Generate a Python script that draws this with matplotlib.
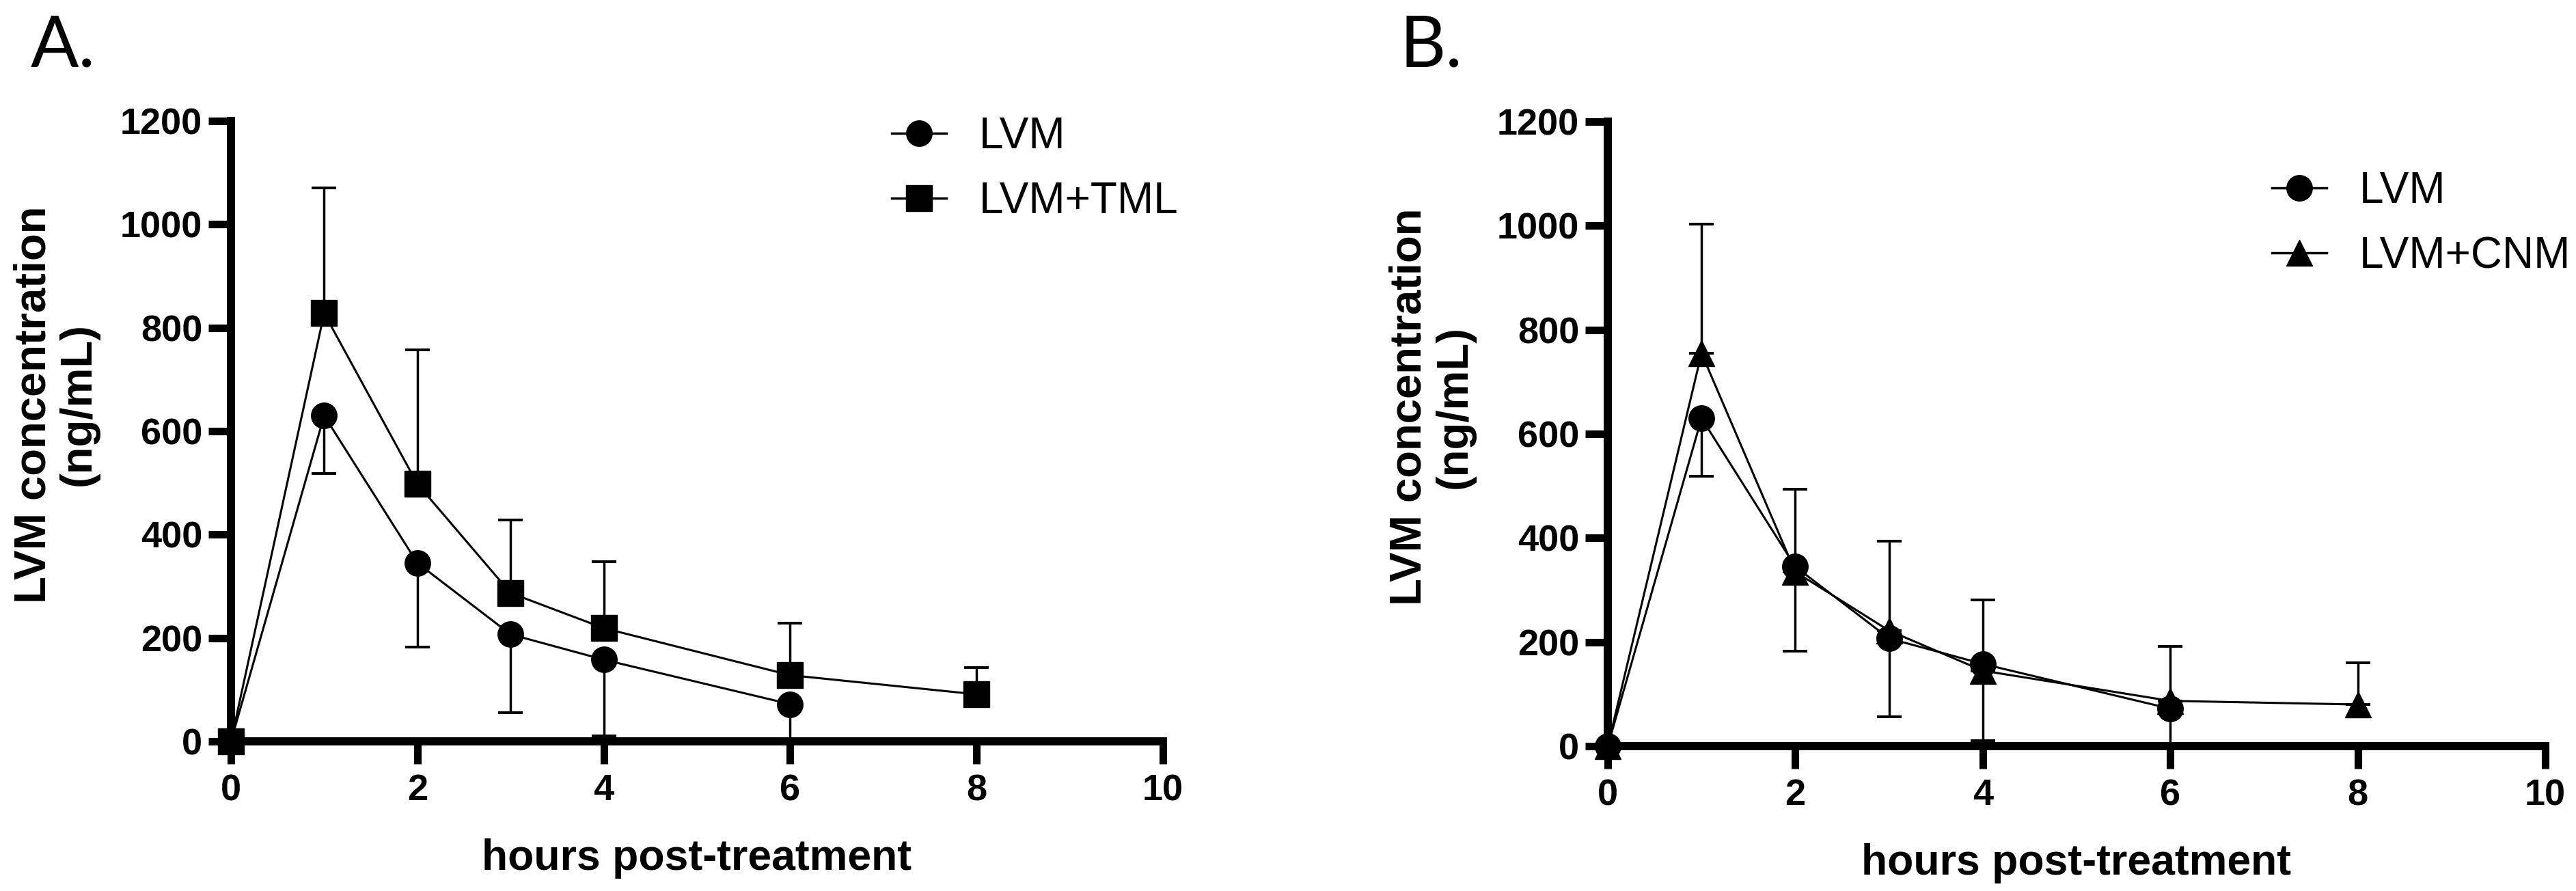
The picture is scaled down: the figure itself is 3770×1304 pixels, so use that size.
import matplotlib
matplotlib.use("Agg")
import matplotlib.pyplot as plt
from matplotlib import font_manager

# ---------------- data ----------------
hours_lvm = [0, 1, 2, 3, 4, 6]
lvm_mean = [0, 630, 345, 207, 158, 72]
lvm_sd = [0, 112, 162, 151, 147, 75]

hours_combo = [0, 1, 2, 3, 4, 6, 8]
tml_mean = [0, 828, 498, 287, 219, 128, 91]
tml_sd = [0, 243, 259, 141, 129, 100, 52]

cnm_mean = [0, 755, 335, 222, 145, 87, 80]
cnm_sd = [0, 248, 159, 172, 136, 105, 80]

x_ticks = [0, 2, 4, 6, 8, 10]
y_ticks = [0, 200, 400, 600, 800, 1000, 1200]
x_label = "hours post-treatment"
y_label = "LVM concentration\n(ng/mL)"

# ---------------- fonts ----------------
names = {f.name for f in font_manager.fontManager.ttflist}
NARROW = "Liberation Sans Narrow" if "Liberation Sans Narrow" in names else "Liberation Sans"
LETTER = "Lato" if "Lato" in names else "DejaVu Sans"

W, H = 3770, 1304
DPI = 100
fig = plt.figure(figsize=(W / DPI, H / DPI), dpi=DPI)


def px_axes(l, t, r, b):
    return fig.add_axes([l / W, 1 - b / H, (r - l) / W, (b - t) / H])


axA = px_axes(338, 177, 1702, 1085)
axB = px_axes(2353, 178, 3725, 1092)

LW_AX = 8.6
LW_DATA = 2.2
MS = 27
CAP = 13


def style_axes(ax):
    ax.set_xlim(0, 10)
    ax.set_ylim(0, 1200)
    for s in ("top", "right"):
        ax.spines[s].set_visible(False)
    for s in ("left", "bottom"):
        ax.spines[s].set_linewidth(LW_AX)
        ax.spines[s].set_capstyle("projecting")
    ax.set_xticks(x_ticks)
    ax.set_yticks(y_ticks)
    ax.tick_params(axis="both", direction="out", length=24, width=8,
                   labelsize=39, color="black")
    ax.tick_params(axis="x", pad=10)
    ax.tick_params(axis="y", pad=6)
    for lab in ax.get_xticklabels() + ax.get_yticklabels():
        lab.set_fontfamily(NARROW)
        lab.set_fontweight("bold")
    ax.set_xlabel(x_label, fontsize=45, fontweight="bold", family=NARROW, labelpad=32)
    ax.set_ylabel(y_label, fontsize=47, fontweight="bold", family=NARROW,
                  va="center", ha="center", multialignment="center", linespacing=1.12)
    ax.yaxis.set_label_coords(-0.1877, 0.543)


def series(ax, x, y, sd, marker, label, direction):
    zeros = [0] * len(sd)
    yerr = [sd, zeros] if direction == "down" else [zeros, sd]
    cont = ax.errorbar(x, y, yerr=yerr, fmt="-", marker=marker, color="black",
                       mfc="black", mec="black", ms=MS, lw=LW_DATA,
                       elinewidth=2.5, capsize=CAP, capthick=2.8, label=label)
    cont.lines[0].set_clip_on(False)
    return cont


# Panel A
sA1 = series(axA, hours_lvm, lvm_mean, lvm_sd, "o", "LVM", "down")
sA2 = series(axA, hours_combo, tml_mean, tml_sd, "s", "LVM+TML", "up")
style_axes(axA)

# Panel B
sB1 = series(axB, hours_lvm, lvm_mean, lvm_sd, "o", "LVM", "down")
sB2 = series(axB, hours_combo, cnm_mean, cnm_sd, "^", "LVM+CNM", "up")
style_axes(axB)


def make_legend(ax, handles, labels, left_px, top_px, spacing):
    leg = ax.legend(handles, labels, loc="upper left",
                    bbox_to_anchor=(left_px / W, 1 - top_px / H),
                    bbox_transform=fig.transFigure, frameon=False,
                    borderpad=0, borderaxespad=0, handlelength=1.25,
                    handletextpad=0.75, labelspacing=spacing,
                    prop={"family": NARROW, "size": 46})
    for line in leg.get_lines():
        line.set_linewidth(2.5)
    return leg


make_legend(axA, [sA1.lines[0], sA2.lines[0]], ["LVM", "LVM+TML"], 1305, 170, 0.55)
make_legend(axB, [sB1.lines[0], sB2.lines[0]], ["LVM", "LVM+CNM"], 3325, 250, 0.55)

fig.text(45 / W, 1 - 97 / H, "A.", fontsize=75, family=LETTER, ha="left", va="baseline")
fig.text(2048 / W, 1 - 98 / H, "B.", fontsize=75, family=LETTER, ha="left", va="baseline")

fig.savefig("out.png", dpi=DPI, facecolor="white")
